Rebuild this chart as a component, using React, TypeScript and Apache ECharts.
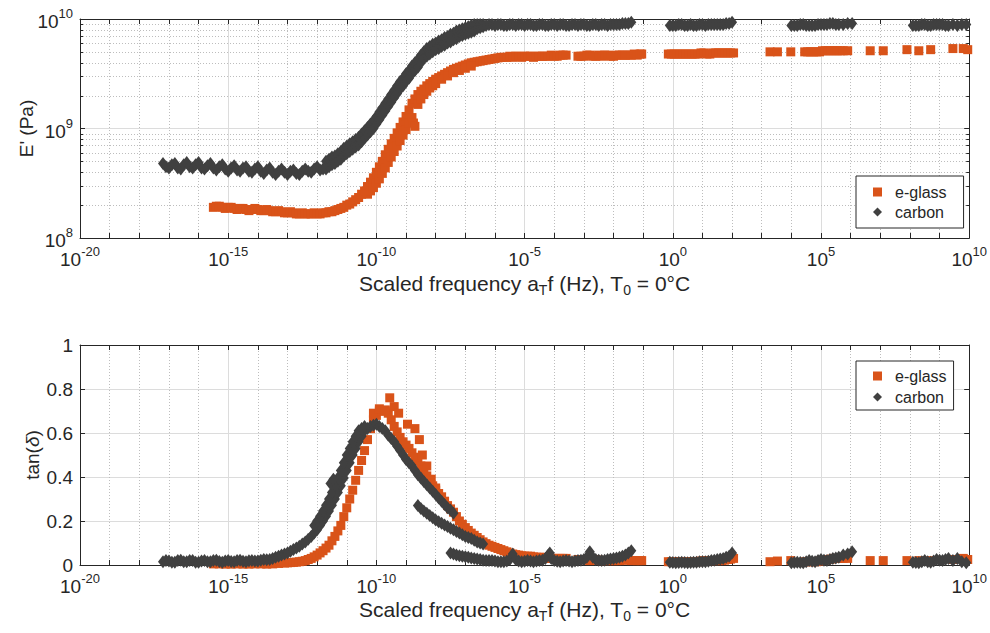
import React, { useEffect, useRef } from 'react';
import * as echarts from 'echarts';

// ---- data: [log10(scaled frequency aT·f / Hz), value] ----
// storage modulus stored as log10(E' / Pa)
const eglassModulus: [number, number][] = [
  [-15.5, 8.28], [-15.4, 8.29], [-15.3, 8.29], [-15.2, 8.28], [-15.1, 8.27], [-15.0, 8.28], [-14.9, 8.28], [-14.8, 8.27],
  [-14.7, 8.26], [-14.6, 8.27], [-14.5, 8.27], [-14.4, 8.26], [-14.3, 8.25], [-14.2, 8.26], [-14.1, 8.27], [-14.0, 8.26],
  [-13.9, 8.25], [-13.8, 8.25], [-13.7, 8.26], [-13.6, 8.25], [-13.5, 8.24], [-13.4, 8.24], [-13.3, 8.25], [-13.2, 8.24],
  [-13.1, 8.23], [-13.0, 8.23], [-12.9, 8.24], [-12.8, 8.23], [-12.7, 8.22], [-12.6, 8.22], [-12.5, 8.23], [-12.4, 8.22],
  [-12.3, 8.22], [-12.2, 8.22], [-12.1, 8.23], [-12.0, 8.22], [-11.9, 8.22], [-11.8, 8.23], [-11.7, 8.23], [-11.6, 8.24],
  [-11.5, 8.24], [-11.4, 8.25], [-11.3, 8.26], [-11.2, 8.27], [-11.1, 8.28], [-11.0, 8.30], [-10.9, 8.31], [-10.8, 8.33],
  [-10.7, 8.35], [-10.6, 8.37], [-10.5, 8.40], [-10.4, 8.43],
  [-10.3, 8.47], [-10.2, 8.51], [-10.1, 8.55], [-10.0, 8.60], [-9.9, 8.65], [-9.8, 8.70], [-9.7, 8.76], [-9.6, 8.81],
  [-9.5, 8.86], [-9.4, 8.91], [-9.3, 8.96], [-9.2, 9.01], [-9.1, 9.06], [-9.0, 9.11], [-8.9, 9.17], [-8.8, 9.23],
  [-8.7, 9.27], [-8.6, 9.31], [-8.5, 9.34], [-8.4, 9.36], [-8.3, 9.39], [-8.2, 9.41], [-8.1, 9.43], [-8.0, 9.45],
  [-7.9, 9.465], [-7.8, 9.48], [-7.7, 9.495], [-7.6, 9.51], [-7.5, 9.525], [-7.4, 9.54], [-7.3, 9.55], [-7.2, 9.56],
  [-7.1, 9.57], [-7.0, 9.58], [-6.9, 9.59], [-6.8, 9.60], [-6.7, 9.605], [-6.6, 9.61], [-6.5, 9.615], [-6.4, 9.62],
  [-6.3, 9.625], [-6.2, 9.63], [-6.1, 9.635], [-6.0, 9.64],
  [-10.3, 8.40], [-10.2, 8.43], [-10.1, 8.46], [-10.0, 8.50], [-9.9, 8.54], [-9.8, 8.59], [-9.7, 8.64], [-9.6, 8.69],
  [-9.5, 8.74], [-9.4, 8.79], [-9.3, 8.84], [-9.2, 8.89], [-9.1, 8.94], [-9.0, 8.99], [-8.9, 9.05], [-8.8, 9.10],
  [-8.75, 9.05], [-8.7, 9.02], [-8.6, 9.22], [-8.5, 9.27], [-8.4, 9.31], [-8.3, 9.34], [-8.2, 9.37], [-8.1, 9.39],
  [-8.0, 9.41], [-7.8, 9.45], [-7.6, 9.48], [-7.4, 9.51], [-7.2, 9.53], [-7.0, 9.55], [-6.8, 9.57],
  [-5.9, 9.645], [-5.8, 9.65], [-5.7, 9.65], [-5.6, 9.65], [-5.5, 9.66], [-5.4, 9.65], [-5.3, 9.66], [-5.2, 9.66],
  [-5.1, 9.65], [-5.0, 9.66], [-4.9, 9.66], [-4.8, 9.66], [-4.7, 9.65], [-4.6, 9.66], [-4.5, 9.66], [-4.4, 9.66],
  [-4.3, 9.66], [-4.2, 9.66], [-4.1, 9.67], [-4.0, 9.66], [-3.9, 9.66], [-3.8, 9.67], [-3.7, 9.67], [-3.6, 9.67],
  [-3.2, 9.66], [-3.1, 9.66], [-3.0, 9.66], [-2.9, 9.67], [-2.8, 9.67], [-2.7, 9.66], [-2.6, 9.66], [-2.5, 9.67],
  [-2.4, 9.66], [-2.3, 9.67], [-2.2, 9.67], [-2.1, 9.66], [-2.0, 9.66], [-1.9, 9.67], [-1.8, 9.67], [-1.7, 9.67],
  [-1.6, 9.67], [-1.5, 9.67], [-1.4, 9.67], [-1.3, 9.68], [-1.2, 9.67], [-1.1, 9.68], [-1.05, 9.68],
  [-0.15, 9.68], [-0.05, 9.68], [0.05, 9.68], [0.15, 9.68], [0.25, 9.68], [0.35, 9.68], [0.45, 9.68], [0.55, 9.68],
  [0.65, 9.68], [0.75, 9.68], [0.85, 9.68], [0.95, 9.69], [1.05, 9.69], [1.15, 9.68], [1.25, 9.68], [1.35, 9.69],
  [1.45, 9.69], [1.55, 9.69], [1.65, 9.69], [1.75, 9.69], [1.85, 9.69], [1.95, 9.69], [2.05, 9.69],
  [3.28, 9.70], [3.53, 9.70], [3.98, 9.70], [4.45, 9.70], [4.55, 9.70], [4.65, 9.70], [4.75, 9.70], [4.85, 9.70],
  [4.95, 9.70], [5.05, 9.71], [5.15, 9.71], [5.25, 9.71], [5.35, 9.71], [5.45, 9.71], [5.55, 9.71], [5.65, 9.71],
  [5.75, 9.71], [5.9, 9.71],
  [6.66, 9.71], [7.1, 9.71], [7.9, 9.72], [8.3, 9.71], [8.7, 9.72], [9.45, 9.73], [9.8, 9.73], [9.95, 9.72],
];

const carbonModulus: [number, number][] = [
  [-17.2, 8.68], [-17.1, 8.65], [-17.0, 8.64], [-16.9, 8.67], [-16.8, 8.68], [-16.7, 8.64], [-16.6, 8.63], [-16.5, 8.67],
  [-16.4, 8.69], [-16.3, 8.65], [-16.2, 8.64], [-16.1, 8.67], [-16.0, 8.69], [-15.9, 8.64], [-15.8, 8.63], [-15.7, 8.66],
  [-15.6, 8.68], [-15.5, 8.64], [-15.4, 8.62], [-15.3, 8.65], [-15.2, 8.67], [-15.1, 8.63], [-15.0, 8.61], [-14.9, 8.64],
  [-14.8, 8.66], [-14.7, 8.62], [-14.6, 8.61], [-14.5, 8.64], [-14.4, 8.65], [-14.3, 8.61], [-14.2, 8.60], [-14.1, 8.63],
  [-14.0, 8.65], [-13.9, 8.61], [-13.8, 8.59], [-13.7, 8.62], [-13.6, 8.64], [-13.5, 8.60], [-13.4, 8.58], [-13.3, 8.61],
  [-13.2, 8.63], [-13.1, 8.60], [-13.0, 8.58], [-12.9, 8.61], [-12.8, 8.62], [-12.7, 8.59], [-12.6, 8.58], [-12.5, 8.61],
  [-12.4, 8.63], [-12.3, 8.61], [-12.2, 8.60], [-12.1, 8.63], [-12.0, 8.65], [-11.9, 8.62], [-11.8, 8.63],
  [-11.7, 8.70], [-11.7, 8.63], [-11.6, 8.72], [-11.6, 8.65], [-11.5, 8.74], [-11.5, 8.67], [-11.4, 8.75], [-11.4, 8.68],
  [-11.3, 8.77], [-11.3, 8.70], [-11.2, 8.79], [-11.2, 8.72], [-11.1, 8.82], [-11.1, 8.75], [-11.0, 8.84], [-11.0, 8.77],
  [-10.9, 8.86], [-10.9, 8.79], [-10.8, 8.88], [-10.8, 8.81], [-10.7, 8.90], [-10.7, 8.83], [-10.6, 8.92], [-10.6, 8.85],
  [-10.5, 8.95], [-10.5, 8.88], [-10.4, 8.98], [-10.4, 8.91], [-10.3, 9.01], [-10.3, 8.94], [-10.2, 9.04], [-10.2, 8.97],
  [-10.1, 9.07], [-10.1, 9.00], [-10.0, 9.11], [-10.0, 9.04], [-9.9, 9.15], [-9.9, 9.08], [-9.8, 9.19], [-9.8, 9.12],
  [-9.7, 9.23], [-9.7, 9.16], [-9.6, 9.27], [-9.6, 9.20], [-9.5, 9.31], [-9.5, 9.24], [-9.4, 9.35], [-9.4, 9.28],
  [-9.3, 9.39], [-9.3, 9.32], [-9.2, 9.43], [-9.2, 9.36], [-9.1, 9.46], [-9.1, 9.39], [-9.0, 9.50], [-9.0, 9.43],
  [-8.9, 9.53], [-8.9, 9.46], [-8.8, 9.57], [-8.8, 9.50], [-8.7, 9.60], [-8.7, 9.53], [-8.6, 9.63], [-8.6, 9.56],
  [-8.5, 9.67], [-8.5, 9.60], [-8.4, 9.70], [-8.4, 9.64], [-8.3, 9.73], [-8.3, 9.66], [-8.2, 9.75], [-8.2, 9.68],
  [-8.1, 9.77], [-8.1, 9.70], [-8.0, 9.78], [-8.0, 9.72], [-7.9, 9.80], [-7.9, 9.73], [-7.8, 9.81], [-7.8, 9.75],
  [-7.7, 9.83], [-7.7, 9.76], [-7.6, 9.84], [-7.6, 9.78], [-7.5, 9.86], [-7.5, 9.79], [-7.4, 9.87], [-7.4, 9.81],
  [-7.3, 9.89], [-7.3, 9.82], [-7.2, 9.90], [-7.2, 9.84], [-7.1, 9.91], [-7.1, 9.85], [-7.0, 9.92], [-7.0, 9.86],
  [-6.9, 9.93], [-6.9, 9.87], [-6.8, 9.94], [-6.8, 9.88], [-6.7, 9.95], [-6.7, 9.89], [-6.6, 9.95], [-6.6, 9.91],
  [-6.5, 9.95], [-6.5, 9.92], [-6.4, 9.95], [-6.4, 9.93],
  [-6.3, 9.94], [-6.2, 9.95], [-6.1, 9.95], [-6.0, 9.94], [-5.9, 9.95], [-5.8, 9.95], [-5.7, 9.94], [-5.6, 9.94],
  [-5.5, 9.95], [-5.4, 9.95], [-5.3, 9.94], [-5.2, 9.95], [-5.1, 9.95], [-5.0, 9.94], [-4.9, 9.95], [-4.8, 9.95],
  [-4.7, 9.94], [-4.6, 9.94], [-4.5, 9.95], [-4.4, 9.95], [-4.3, 9.94], [-4.2, 9.94], [-4.1, 9.95], [-4.0, 9.95],
  [-3.9, 9.94], [-3.8, 9.95], [-3.7, 9.95], [-3.6, 9.94], [-3.5, 9.94], [-3.4, 9.95], [-3.3, 9.95], [-3.2, 9.94],
  [-3.1, 9.95], [-3.0, 9.95], [-2.9, 9.94], [-2.8, 9.94], [-2.7, 9.95], [-2.6, 9.95], [-2.5, 9.94], [-2.4, 9.95],
  [-2.3, 9.95], [-2.2, 9.94], [-2.1, 9.95], [-2.0, 9.95], [-1.9, 9.95], [-1.8, 9.95], [-1.7, 9.96], [-1.6, 9.96],
  [-1.5, 9.96], [-1.4, 9.97],
  [-0.1, 9.94], [0.0, 9.94], [0.1, 9.94], [0.2, 9.95], [0.3, 9.95], [0.4, 9.94], [0.5, 9.94], [0.6, 9.95],
  [0.7, 9.94], [0.8, 9.94], [0.9, 9.95], [1.0, 9.95], [1.1, 9.94], [1.2, 9.95], [1.3, 9.95], [1.4, 9.95],
  [1.5, 9.95], [1.6, 9.95], [1.7, 9.95], [1.8, 9.96], [1.9, 9.96], [2.0, 9.97],
  [4.0, 9.94], [4.1, 9.94], [4.2, 9.94], [4.3, 9.95], [4.4, 9.95], [4.5, 9.94], [4.6, 9.94], [4.7, 9.94],
  [4.8, 9.94], [4.9, 9.95], [5.0, 9.95], [5.1, 9.95], [5.2, 9.95], [5.3, 9.96], [5.4, 9.96], [5.5, 9.95],
  [5.6, 9.95], [5.75, 9.95], [5.9, 9.96], [6.05, 9.96],
  [8.1, 9.94], [8.2, 9.94], [8.3, 9.94], [8.4, 9.95], [8.5, 9.95], [8.6, 9.94], [8.7, 9.94], [8.8, 9.95],
  [8.9, 9.95], [9.0, 9.95], [9.1, 9.95], [9.2, 9.94], [9.3, 9.94], [9.45, 9.95], [9.6, 9.94], [9.75, 9.95], [9.9, 9.95],
];

// loss factor tan(δ)
const eglassTanDelta: [number, number][] = [
  [-15.5, 0.005], [-15.3, 0.005], [-15.1, 0.004], [-14.9, 0.004], [-14.7, 0.005], [-14.5, 0.004], [-14.3, 0.004],
  [-14.1, 0.005], [-13.9, 0.005], [-13.7, 0.004], [-13.5, 0.005], [-13.3, 0.007], [-13.1, 0.009],
  [-13.0, 0.010], [-12.9, 0.011], [-12.8, 0.012], [-12.7, 0.013], [-12.6, 0.015], [-12.5, 0.017], [-12.4, 0.02],
  [-12.3, 0.025], [-12.2, 0.03], [-12.1, 0.037], [-12.0, 0.045], [-11.9, 0.055], [-11.8, 0.065], [-11.7, 0.077],
  [-11.6, 0.09], [-11.5, 0.11], [-11.4, 0.13], [-11.3, 0.155], [-11.2, 0.18], [-11.1, 0.22], [-11.0, 0.26],
  [-10.9, 0.30], [-10.8, 0.34], [-10.7, 0.385], [-10.6, 0.43], [-10.5, 0.475], [-10.4, 0.52], [-10.3, 0.57],
  [-10.2, 0.62], [-10.1, 0.66], [-10.0, 0.68], [-9.9, 0.70], [-9.8, 0.70], [-9.7, 0.70], [-9.6, 0.69], [-9.5, 0.66],
  [-9.4, 0.63], [-9.3, 0.605], [-9.2, 0.58], [-9.1, 0.56], [-9.0, 0.545], [-8.9, 0.53], [-8.8, 0.51], [-8.7, 0.49],
  [-8.6, 0.475], [-8.5, 0.45], [-8.4, 0.43], [-8.3, 0.405], [-8.2, 0.38], [-8.1, 0.36], [-8.0, 0.34], [-7.9, 0.325],
  [-7.8, 0.31], [-7.7, 0.29], [-7.6, 0.27], [-7.5, 0.255], [-7.4, 0.24], [-7.3, 0.22], [-7.2, 0.20], [-7.1, 0.185],
  [-7.0, 0.17], [-6.9, 0.157], [-6.8, 0.145], [-6.7, 0.135], [-6.6, 0.125], [-6.5, 0.115], [-6.4, 0.105], [-6.3, 0.097],
  [-6.2, 0.09], [-6.1, 0.085], [-6.0, 0.08], [-5.9, 0.075], [-5.8, 0.07], [-5.7, 0.065], [-5.6, 0.06], [-5.5, 0.055],
  [-5.4, 0.05], [-5.3, 0.047], [-5.2, 0.045], [-5.1, 0.042], [-5.0, 0.04], [-4.9, 0.04], [-4.8, 0.04], [-4.7, 0.037],
  [-4.6, 0.035], [-4.5, 0.035], [-4.4, 0.035], [-4.3, 0.032], [-4.2, 0.03], [-4.1, 0.03], [-4.0, 0.03], [-3.9, 0.03],
  [-3.8, 0.03], [-3.7, 0.03], [-3.6, 0.03],
  [-10.1, 0.69], [-9.9, 0.71], [-9.7, 0.705],
  [-9.55, 0.76], [-9.4, 0.72], [-9.25, 0.69], [-8.95, 0.64], [-8.7, 0.62], [-8.55, 0.57], [-8.45, 0.50], [-8.3, 0.45],
  [-8.15, 0.39], [-8.0, 0.35],
  [-3.2, 0.025], [-3.1, 0.025], [-3.0, 0.025], [-2.9, 0.022], [-2.8, 0.02], [-2.7, 0.022], [-2.6, 0.025], [-2.5, 0.022],
  [-2.4, 0.02], [-2.3, 0.02], [-2.2, 0.02], [-2.1, 0.02], [-2.0, 0.02], [-1.9, 0.02], [-1.8, 0.02], [-1.7, 0.022],
  [-1.6, 0.025], [-1.5, 0.022], [-1.4, 0.02], [-1.3, 0.02], [-1.2, 0.02], [-1.1, 0.02], [-1.05, 0.02],
  [-0.15, 0.015], [-0.05, 0.015], [0.05, 0.015], [0.15, 0.015], [0.25, 0.015], [0.35, 0.015], [0.45, 0.015],
  [0.55, 0.015], [0.65, 0.015], [0.75, 0.015], [0.85, 0.015], [0.95, 0.018], [1.05, 0.02], [1.15, 0.02], [1.25, 0.02],
  [1.35, 0.02], [1.45, 0.02], [1.55, 0.02], [1.65, 0.02], [1.75, 0.022], [1.85, 0.025], [1.95, 0.027], [2.05, 0.03],
  [3.28, 0.015], [3.53, 0.018], [3.98, 0.02], [4.45, 0.015], [4.55, 0.015], [4.65, 0.015], [4.75, 0.015], [4.85, 0.015],
  [4.95, 0.018], [5.05, 0.02], [5.15, 0.022], [5.25, 0.025], [5.35, 0.027], [5.45, 0.03], [5.55, 0.03], [5.65, 0.03],
  [5.75, 0.03], [5.9, 0.03],
  [6.66, 0.02], [7.1, 0.02], [7.9, 0.02], [8.3, 0.02], [8.7, 0.02], [9.45, 0.025], [9.8, 0.03], [9.95, 0.025],
];

const carbonTanDelta: [number, number][] = [
  [-17.2, 0.015], [-17.1, 0.02], [-17.0, 0.018], [-16.9, 0.012], [-16.8, 0.012], [-16.7, 0.02], [-16.6, 0.022],
  [-16.5, 0.015], [-16.4, 0.015], [-16.3, 0.02], [-16.2, 0.02], [-16.1, 0.013], [-16.0, 0.012], [-15.9, 0.018],
  [-15.8, 0.02], [-15.7, 0.015], [-15.6, 0.015], [-15.5, 0.02], [-15.4, 0.022], [-15.3, 0.016], [-15.2, 0.013],
  [-15.1, 0.018], [-15.0, 0.02], [-14.9, 0.016], [-14.8, 0.015], [-14.7, 0.02], [-14.6, 0.022], [-14.5, 0.017],
  [-14.4, 0.015], [-14.3, 0.019], [-14.2, 0.02], [-14.1, 0.018], [-14.0, 0.018], [-13.9, 0.022], [-13.8, 0.025],
  [-13.7, 0.024], [-13.6, 0.025], [-13.5, 0.03],
  [-13.4, 0.035], [-13.3, 0.04], [-13.2, 0.045], [-13.1, 0.05], [-13.0, 0.055], [-12.9, 0.062], [-12.8, 0.07],
  [-12.7, 0.077], [-12.6, 0.085], [-12.5, 0.095], [-12.4, 0.105], [-12.3, 0.117], [-12.2, 0.13], [-12.1, 0.145],
  [-12.0, 0.16], [-11.9, 0.18], [-11.8, 0.20], [-11.7, 0.222], [-11.6, 0.245], [-11.5, 0.272], [-11.4, 0.30],
  [-11.3, 0.33], [-11.2, 0.36], [-11.1, 0.395], [-11.0, 0.43], [-10.9, 0.465], [-10.8, 0.50], [-10.7, 0.53],
  [-10.6, 0.56], [-10.5, 0.585], [-10.4, 0.61], [-10.3, 0.62], [-10.2, 0.63], [-10.1, 0.635], [-10.0, 0.64],
  [-9.9, 0.63], [-9.8, 0.62],
  [-12.1, 0.18], [-12.0, 0.20], [-11.9, 0.222], [-11.8, 0.245], [-11.7, 0.272], [-11.6, 0.30], [-11.5, 0.33],
  [-11.4, 0.36], [-11.3, 0.395], [-11.2, 0.43], [-11.1, 0.465], [-11.0, 0.50], [-10.9, 0.53], [-10.8, 0.56],
  [-10.7, 0.585], [-10.6, 0.61], [-10.5, 0.62], [-10.4, 0.63], [-11.55, 0.37], [-11.45, 0.39],
  [-9.7, 0.61], [-9.6, 0.59], [-9.5, 0.575], [-9.4, 0.56], [-9.3, 0.54], [-9.2, 0.52], [-9.1, 0.50], [-9.0, 0.48],
  [-8.9, 0.465], [-8.8, 0.45], [-8.7, 0.43], [-8.6, 0.41], [-8.5, 0.395], [-8.4, 0.38], [-8.3, 0.365], [-8.2, 0.35],
  [-8.1, 0.335], [-8.0, 0.32], [-7.9, 0.305], [-7.8, 0.29], [-7.7, 0.275], [-7.6, 0.26], [-7.5, 0.25], [-7.4, 0.235],
  [-8.6, 0.27], [-8.5, 0.257], [-8.4, 0.245], [-8.3, 0.235], [-8.2, 0.225], [-8.1, 0.215], [-8.0, 0.205],
  [-7.9, 0.197], [-7.8, 0.19], [-7.7, 0.182], [-7.6, 0.175], [-7.5, 0.167], [-7.4, 0.16], [-7.3, 0.152],
  [-7.2, 0.145], [-7.1, 0.137], [-7.0, 0.13], [-6.9, 0.125], [-6.8, 0.12], [-6.7, 0.112], [-6.6, 0.105],
  [-6.5, 0.10], [-6.4, 0.095],
  [-7.5, 0.055], [-7.4, 0.05], [-7.3, 0.045], [-7.2, 0.042], [-7.1, 0.04], [-7.0, 0.037], [-6.9, 0.035], [-6.8, 0.032],
  [-6.7, 0.03], [-6.6, 0.027], [-6.5, 0.025], [-6.4, 0.022], [-6.3, 0.02], [-6.2, 0.02], [-6.1, 0.02], [-6.0, 0.018],
  [-5.9, 0.015], [-5.8, 0.015], [-5.7, 0.015], [-5.6, 0.018], [-5.5, 0.025], [-5.4, 0.05], [-5.3, 0.025], [-5.2, 0.018],
  [-5.1, 0.015], [-5.0, 0.017], [-4.9, 0.02], [-4.8, 0.018], [-4.7, 0.015], [-4.6, 0.018], [-4.5, 0.02], [-4.4, 0.022],
  [-4.3, 0.03], [-4.2, 0.045], [-4.15, 0.055], [-4.1, 0.03], [-4.0, 0.02], [-3.9, 0.017], [-3.8, 0.015], [-3.7, 0.018],
  [-3.6, 0.02], [-3.5, 0.018], [-3.4, 0.015], [-3.3, 0.018], [-3.2, 0.02], [-3.1, 0.022], [-3.0, 0.025], [-2.9, 0.035],
  [-2.8, 0.06], [-2.7, 0.035], [-2.6, 0.025], [-2.5, 0.022], [-2.4, 0.02], [-2.3, 0.022], [-2.2, 0.025], [-2.1, 0.027],
  [-2.0, 0.03], [-1.9, 0.032], [-1.8, 0.035], [-1.7, 0.04], [-1.6, 0.045], [-1.5, 0.055], [-1.4, 0.065],
  [-0.1, 0.012], [0.0, 0.011], [0.1, 0.01], [0.2, 0.011], [0.3, 0.012], [0.4, 0.011], [0.5, 0.01], [0.6, 0.011],
  [0.7, 0.012], [0.8, 0.013], [0.9, 0.015], [1.0, 0.015], [1.1, 0.015], [1.2, 0.017], [1.3, 0.02], [1.4, 0.022],
  [1.5, 0.025], [1.6, 0.027], [1.7, 0.03], [1.8, 0.035], [1.9, 0.04], [2.0, 0.055],
  [4.0, 0.01], [4.1, 0.011], [4.2, 0.012], [4.3, 0.011], [4.4, 0.01], [4.5, 0.015], [4.6, 0.02], [4.7, 0.017],
  [4.8, 0.015], [4.9, 0.02], [5.0, 0.025], [5.1, 0.022], [5.2, 0.02], [5.3, 0.025], [5.4, 0.03], [5.5, 0.032],
  [5.6, 0.035], [5.75, 0.045], [5.9, 0.05], [6.05, 0.06],
  [8.1, 0.012], [8.2, 0.011], [8.3, 0.01], [8.4, 0.015], [8.5, 0.02], [8.6, 0.015], [8.7, 0.012], [8.8, 0.018],
  [8.9, 0.025], [9.0, 0.022], [9.1, 0.02], [9.2, 0.025], [9.3, 0.03], [9.45, 0.02], [9.6, 0.03], [9.75, 0.015], [9.9, 0.01],
];

// ---- axes / ticks ----
const seriesNames = ['e-glass', 'carbon'];
const freqExponentRange = [-20, 10];
const freqTickStep = 5;
const modulusExponentRange = [8, 10];
const modulusDecades = [8, 9];
const minorMantissas = [2, 3, 4, 5, 6, 7, 8, 9];
const tanDeltaRange = [0, 1];
const tanDeltaTickStep = 0.2;

const FONT = '"Liberation Sans", Arial, Helvetica, sans-serif';
const TEXT = '#262626';
const ORANGE = '#D95319';
const DARK = '#404040';
const MAJOR_GRID = '#dcdcdc';
const MINOR_GRID = '#bdbdbd';

// "10" with a raised exponent; both tokens 24px tall so the label box stays compact
const supRich = {
  b: { fontSize: 19, lineHeight: 19, padding: [5, 0, 0, 0], fontFamily: FONT, color: TEXT },
  s: { fontSize: 13, lineHeight: 13, padding: [0, 0, 11, 0], fontFamily: FONT, color: TEXT },
};
const powLabel = (v: number) => `{b|10}{s|${Math.round(v)}}`;

const xTitle = '{n|Scaled frequency a}{sub|T}{n|f (Hz), T}{sub|0}{n| = 0°C}';
const xTitleRich = {
  n: { fontSize: 21, lineHeight: 21, fontFamily: FONT, color: TEXT },
  sub: { fontSize: 14, lineHeight: 14, padding: [12, 0, 0, 0], fontFamily: FONT, color: TEXT },
};

const tickLine = { color: TEXT, width: 1 };

function freqAxis(gridIndex: number, nameGap: number) {
  return {
    type: 'value',
    gridIndex,
    position: 'bottom',
    min: freqExponentRange[0],
    max: freqExponentRange[1],
    interval: freqTickStep,
    axisLine: { show: true, onZero: false, lineStyle: tickLine },
    axisTick: { show: true, inside: true, length: 5, lineStyle: tickLine },
    minorTick: { show: true, splitNumber: 5, length: 5, lineStyle: tickLine },
    splitLine: { show: true, showMinLine: false, showMaxLine: false, lineStyle: { color: MAJOR_GRID, width: 1 } },
    minorSplitLine: { show: true, lineStyle: { color: MINOR_GRID, width: 1, type: [1, 2] } },
    axisLabel: { show: true, formatter: powLabel, rich: supRich, margin: 9, showMinLabel: true, showMaxLabel: true },
    name: xTitle,
    nameLocation: 'middle',
    nameGap,
    nameMoveOverlap: false,
    nameTextStyle: { rich: xTitleRich },
  };
}
function freqMirror(gridIndex: number) {
  return {
    type: 'value',
    gridIndex,
    position: 'top',
    min: freqExponentRange[0],
    max: freqExponentRange[1],
    interval: freqTickStep,
    axisLine: { show: true, onZero: false, lineStyle: tickLine },
    axisTick: { show: true, inside: true, length: 5, lineStyle: tickLine },
    minorTick: { show: true, splitNumber: 5, length: 5, lineStyle: tickLine },
    splitLine: { show: false },
    axisLabel: { show: false },
  };
}

function legendAt(top: number, padding: number[], itemGap: number) {
  return {
    orient: 'vertical',
    left: 856,
    top,
    data: [
      { name: seriesNames[0], icon: 'rect' },
      { name: seriesNames[1], icon: 'diamond' },
    ],
    itemWidth: 9,
    itemHeight: 9,
    itemGap,
    padding,
    backgroundColor: '#ffffff',
    borderColor: TEXT,
    borderWidth: 1,
    borderRadius: 0,
    selectedMode: false,
    textStyle: { fontSize: 16, fontFamily: FONT, color: TEXT, padding: [0, 0, 0, 8] },
  };
}

export default function App() {
  const ref = useRef<HTMLDivElement>(null);

  useEffect(() => {
    if (!ref.current) return;
    const chart = echarts.init(ref.current, undefined, { renderer: 'svg' });

    const minorModulusGrid: number[][] = [];
    modulusDecades.forEach((d) =>
      minorMantissas.forEach((m) => minorModulusGrid.push([freqExponentRange[0], d + Math.log10(m)]))
    );

    const option: any = {
      animation: false,
      backgroundColor: '#ffffff',
      textStyle: { fontFamily: FONT, color: TEXT },
      grid: [
        { left: 80, top: 19, width: 890, height: 219, containLabel: false },
        { left: 80, top: 345, width: 890, height: 220, containLabel: false },
      ],
      legend: [legendAt(176, [8, 17, 8, 17], 4), legendAt(361, [7, 7, 5, 17], 5)],
      xAxis: [freqAxis(0, 35), freqMirror(0), freqAxis(1, 34), freqMirror(1)],
      yAxis: [
        {
          type: 'value',
          gridIndex: 0,
          position: 'left',
          min: modulusExponentRange[0],
          max: modulusExponentRange[1],
          interval: 1,
          axisLine: { show: true, onZero: false, lineStyle: tickLine },
          axisTick: { show: true, inside: true, length: 5, lineStyle: tickLine },
          splitLine: { show: true, showMinLine: false, showMaxLine: false, lineStyle: { color: MAJOR_GRID, width: 1 } },
          axisLabel: { formatter: powLabel, rich: supRich, margin: 7, showMinLabel: true, showMaxLabel: true },
          name: "E' (Pa)",
          nameLocation: 'middle',
          nameGap: 44,
          nameMoveOverlap: false,
          nameTextStyle: { fontSize: 19, fontFamily: FONT, color: TEXT },
        },
        {
          type: 'value',
          gridIndex: 0,
          position: 'right',
          min: modulusExponentRange[0],
          max: modulusExponentRange[1],
          interval: 1,
          axisLine: { show: true, onZero: false, lineStyle: tickLine },
          axisTick: { show: true, inside: true, length: 5, lineStyle: tickLine },
          splitLine: { show: false },
          axisLabel: { show: false },
        },
        {
          type: 'value',
          gridIndex: 1,
          position: 'left',
          min: tanDeltaRange[0],
          max: tanDeltaRange[1],
          interval: tanDeltaTickStep,
          axisLine: { show: true, onZero: false, lineStyle: tickLine },
          axisTick: { show: true, inside: true, length: 5, lineStyle: tickLine },
          splitLine: { show: true, showMinLine: false, showMaxLine: false, lineStyle: { color: MAJOR_GRID, width: 1 } },
          axisLabel: {
            fontSize: 19,
            fontFamily: FONT,
            color: TEXT,
            margin: 7,
            formatter: (v: number) => String(Math.round(v * 10) / 10),
          },
          name: '{n|tan(}{i|δ}{n|)}',
          nameLocation: 'middle',
          nameGap: 38,
          nameMoveOverlap: false,
          nameTextStyle: {
            rich: {
              n: { fontSize: 19, fontFamily: FONT, color: TEXT },
              i: { fontSize: 19, fontFamily: FONT, color: TEXT, fontStyle: 'italic' },
            },
          },
        },
        {
          type: 'value',
          gridIndex: 1,
          position: 'right',
          min: tanDeltaRange[0],
          max: tanDeltaRange[1],
          interval: tanDeltaTickStep,
          axisLine: { show: true, onZero: false, lineStyle: tickLine },
          axisTick: { show: true, inside: true, length: 5, lineStyle: tickLine },
          splitLine: { show: false },
          axisLabel: { show: false },
        },
      ],
      series: [
        {
          type: 'custom',
          name: 'minor-grid',
          xAxisIndex: 0,
          yAxisIndex: 0,
          z: 1,
          silent: true,
          encode: { x: 0, y: 1 },
          data: minorModulusGrid,
          renderItem: (_params: any, api: any) => {
            const y = api.value(1);
            const l = api.coord([freqExponentRange[0], y]);
            const r = api.coord([freqExponentRange[1], y]);
            const py = Math.round(l[1]) + 0.5;
            return {
              type: 'group',
              children: [
                {
                  type: 'line',
                  shape: { x1: l[0], y1: py, x2: r[0], y2: py },
                  style: { stroke: MINOR_GRID, lineWidth: 1, lineDash: [1, 2] },
                },
                {
                  type: 'line',
                  shape: { x1: l[0], y1: py, x2: l[0] + 3, y2: py },
                  style: { stroke: TEXT, lineWidth: 1 },
                },
                {
                  type: 'line',
                  shape: { x1: r[0] - 3, y1: py, x2: r[0], y2: py },
                  style: { stroke: TEXT, lineWidth: 1 },
                },
              ],
            };
          },
        },
        {
          type: 'scatter',
          name: seriesNames[0],
          xAxisIndex: 0,
          yAxisIndex: 0,
          symbol: 'rect',
          symbolSize: 9,
          itemStyle: { color: ORANGE, opacity: 1 },
          data: eglassModulus,
          z: 2,
        },
        {
          type: 'scatter',
          name: seriesNames[1],
          xAxisIndex: 0,
          yAxisIndex: 0,
          symbol: 'diamond',
          symbolSize: [10, 13],
          itemStyle: { color: DARK, opacity: 1 },
          data: carbonModulus,
          z: 3,
        },
        {
          type: 'scatter',
          name: seriesNames[0],
          xAxisIndex: 2,
          yAxisIndex: 2,
          symbol: 'rect',
          symbolSize: 9,
          itemStyle: { color: ORANGE, opacity: 1 },
          data: eglassTanDelta,
          z: 2,
        },
        {
          type: 'scatter',
          name: seriesNames[1],
          xAxisIndex: 2,
          yAxisIndex: 2,
          symbol: 'diamond',
          symbolSize: [10, 13],
          itemStyle: { color: DARK, opacity: 1 },
          data: carbonTanDelta,
          z: 3,
        },
      ],
    };

    chart.setOption(option);
    return () => chart.dispose();
  }, []);

  return (
    <div
      ref={ref}
      style={{ position: 'fixed', left: 0, top: 0, width: 990, height: 633, background: '#ffffff' }}
    />
  );
}
